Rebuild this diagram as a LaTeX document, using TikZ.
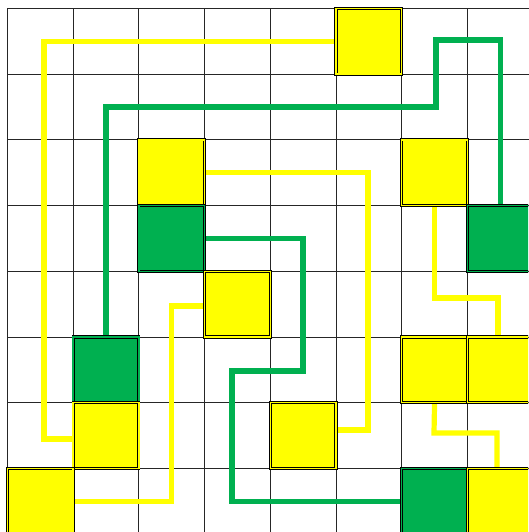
\documentclass[tikz,border=0pt]{standalone}
\definecolor{ylw}{HTML}{FFFF00}
\definecolor{grn}{HTML}{00B050}
\pgfdeclarelayer{gridlayer}
\pgfdeclarelayer{linelayer}
\pgfsetlayers{gridlayer,linelayer,main}
\tikzset{
  sq/.style={minimum size=65.7pt, inner sep=0pt, draw=black, line width=0.8pt, double distance=1.5pt},
  ysq/.style={sq, fill=ylw, double=ylw},
  gsq/.style={sq, fill=grn, double=grn},
  yline/.style={draw=ylw, line width=5.2pt, line join=miter},
  gline/.style={draw=grn, line width=5.2pt, line join=miter},
  gridline/.style={draw=black!85, line width=1pt}
}
\begin{document}
\begin{tikzpicture}[x=1pt,y=-1pt]
\useasboundingbox (0,0) rectangle (528,532);
\clip (0,0) rectangle (528,532);
% squares
\node[ysq] (y50) at (368.85,41.35) {};
\node[ysq] (y22) at (171.75,172.75) {};
\node[ysq] (y62) at (434.55,172.75) {};
\node[gsq] (g23) at (171.75,238.45) {};
\node[gsq] (g73) at (500.25,238.45) {};
\node[ysq] (y34) at (237.45,304.15) {};
\node[gsq] (g15) at (106.05,369.85) {};
\node[ysq] (y65) at (434.55,369.85) {};
\node[ysq] (y75) at (500.25,369.85) {};
\node[ysq] (y16) at (106.05,435.55) {};
\node[ysq] (y46) at (303.15,435.55) {};
\node[ysq] (y07) at (40.35,501.25) {};
\node[gsq] (g67) at (434.55,501.25) {};
\node[ysq] (y77) at (500.25,501.25) {};
% grid
\begin{pgfonlayer}{gridlayer}
\fill[white] (0,0) rectangle (528,532);
\foreach \k in {0,...,8}{
  \draw[gridline] ({7.5+65.7*\k},8.5) -- ({7.5+65.7*\k},540);
  \draw[gridline] (7.5,{8.5+65.7*\k}) -- (540,{8.5+65.7*\k});
}
\end{pgfonlayer}
% connectors
\begin{pgfonlayer}{linelayer}
\draw[yline] (y50.west) -- (44,41.35) -- (44,439) -- (y16.west |- 0,439);
\draw[yline] (y22.east) -- (368,172.75) -- (368,430) -- (y46.east |- 0,430);
\draw[yline] (y34.west |- 0,306) -- (171.75,306) -- (171.75,501.5) -- (y07.east |- 0,501.5);
\draw[yline] (y62.south) -- (434.55,298) -- (498,298) -- (y75.north -| 498,0);
\draw[yline] (y65.south) -- (434,433) -- (497,433) -- (y77.north -| 497,0);
\draw[gline] (g15.north) -- (106.05,107) -- (436,107) -- (436,40) -- (500.25,40) -- (g73.north);
\draw[gline] (g23.east) -- (303,238.45) -- (303,371) -- (232,371) -- (232,501.5) -- (g67.west |- 0,501.5);
\end{pgfonlayer}
\end{tikzpicture}
\end{document}
